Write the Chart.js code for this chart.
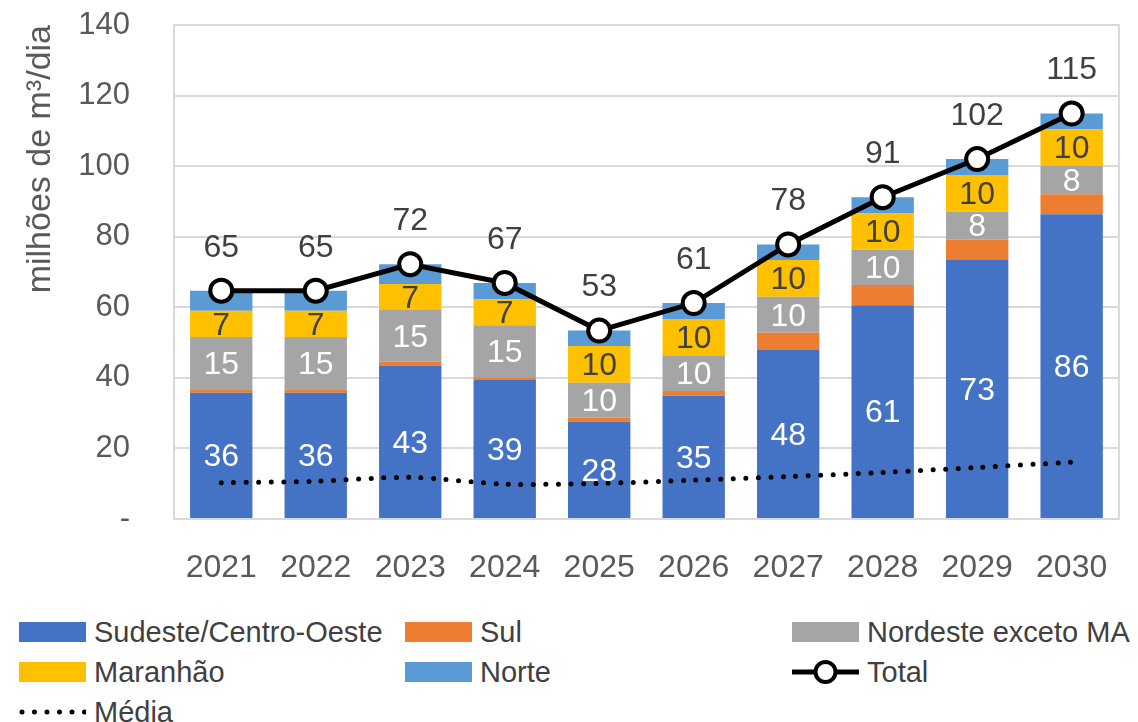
<!DOCTYPE html>
<html>
<head>
<meta charset="utf-8">
<script src="https://cdn.jsdelivr.net/npm/chart.js@4"></script>
<style>
    body { margin: 0; background: #fff; font-family: "Liberation Sans", Arial, sans-serif; }
    #wrap { position: relative; width: 1138px; height: 722px; }
    #chartBox { position: absolute; left: 0; top: 0; width: 1138px; height: 600px; }
    .leg { position: absolute; height: 40px; display: flex; align-items: center; font-size: 29px; color: #404040; white-space: nowrap; }
    .sw { width: 67px; height: 20px; margin-right: 8px; }
    .leg svg { margin-right: 8px; }
</style>
</head>
<body>
<div id="wrap">
    <div id="chartBox"><canvas id="mainChart"></canvas></div>
    <div id="legend"></div>
</div>
<script>
// --- Data (milhões de m³/dia) ---
const years = ['2021', '2022', '2023', '2024', '2025', '2026', '2027', '2028', '2029', '2030'];
const sudesteCO = [35.8, 35.8, 43.4, 39.4, 27.6, 34.9, 47.9, 60.6, 73.4, 86.4];
const sul = [1.0, 1.0, 1.2, 0.8, 1.1, 1.4, 4.9, 5.7, 5.8, 5.6];
const nordesteExMA = [14.8, 14.8, 14.6, 14.7, 9.9, 10.1, 10.2, 10.1, 7.9, 8.1];
const maranhao = [7.4, 7.4, 7.4, 7.3, 10.4, 10.3, 10.4, 10.2, 10.4, 10.3];
const norte = [5.7, 5.7, 5.6, 4.7, 4.4, 4.5, 4.4, 4.6, 4.5, 4.5];
const total = [64.7, 64.7, 72.2, 66.9, 53.4, 61.2, 77.8, 91.2, 102.0, 114.9];
const media = [10.3, 10.7, 11.8, 9.9, 10.1, 11.0, 12.0, 13.2, 14.6, 16.1];
const yTicks = [0, 20, 40, 60, 80, 100, 120, 140];

const FONT = '"Liberation Sans", Arial, sans-serif';
const TEXT = '#404040';

// grey frame round the plot area
const plotFrame = {
    id: 'plotFrame',
    beforeDatasetsDraw(chart) {
        const { ctx, chartArea: a } = chart;
        ctx.save();
        ctx.strokeStyle = '#D9D9D9';
        ctx.lineWidth = 2;
        ctx.strokeRect(a.left, a.top, a.right - a.left, a.bottom - a.top);
        ctx.restore();
    }
};

// value labels inside segments and above the Total line
const valueLabels = {
    id: 'valueLabels',
    afterDatasetsDraw(chart) {
        const ctx = chart.ctx;
        ctx.save();
        ctx.font = '32px ' + FONT;
        ctx.textAlign = 'center';
        ctx.textBaseline = 'middle';
        chart.data.datasets.forEach((ds, i) => {
            if (!ds.labelColor) return;
            const meta = chart.getDatasetMeta(i);
            ctx.fillStyle = ds.labelColor;
            meta.data.forEach((el, j) => {
                const v = Math.round(ds.data[j]);
                if (ds.type === 'line') {
                    ctx.fillText(v, el.x, el.y - 43);
                } else {
                    ctx.fillText(v, el.x, (el.y + el.base) / 2 + 2);
                }
            });
        });
        ctx.restore();
    }
};

new Chart(document.getElementById('mainChart').getContext('2d'), {
    type: 'bar',
    data: {
        labels: years,
        datasets: [
            { label: 'Sudeste/Centro-Oeste', data: sudesteCO, backgroundColor: '#4472C4', labelColor: '#FFFFFF', order: 2 },
            { label: 'Sul', data: sul, backgroundColor: '#ED7D31', order: 2 },
            { label: 'Nordeste exceto MA', data: nordesteExMA, backgroundColor: '#A5A5A5', labelColor: '#FFFFFF', order: 2 },
            { label: 'Maranhão', data: maranhao, backgroundColor: '#FFC000', labelColor: TEXT, order: 2 },
            { label: 'Norte', data: norte, backgroundColor: '#5B9BD5', order: 2 },
            {
                type: 'line', label: 'Total', data: total, stack: 'total', order: 0,
                borderColor: '#000', borderWidth: 5, tension: 0,
                pointRadius: 11, pointBackgroundColor: '#fff', pointBorderColor: '#000', pointBorderWidth: 4,
                labelColor: TEXT
            },
            {
                type: 'line', label: 'Média', data: media, stack: 'media', order: 1,
                borderColor: '#000', borderWidth: 5, borderDash: [0, 12.5], borderCapStyle: 'round',
                pointRadius: 0, tension: 0.3
            }
        ]
    },
    options: {
        responsive: true,
        maintainAspectRatio: false,
        animation: false,
        datasets: { bar: { barPercentage: 0.66, categoryPercentage: 1 } },
        layout: { padding: { top: 25, right: 8, left: 0, bottom: 0 } },
        plugins: { legend: { display: false }, tooltip: { enabled: false } },
        scales: {
            x: {
                stacked: true,
                grid: { display: false, drawTicks: false },
                border: { display: false },
                ticks: { font: { family: FONT, size: 32 }, color: '#595959', padding: 30 },
                afterFit: (s) => { s.height = 81; }
            },
            y: {
                stacked: true,
                min: 0, max: 140,
                afterBuildTicks: (s) => { s.ticks = yTicks.map(v => ({ value: v })); },
                grid: { color: '#D9D9D9', lineWidth: 2, drawTicks: false },
                border: { display: false },
                ticks: {
                    font: { family: FONT, size: 31 }, color: '#595959', padding: 44,
                    callback: (v) => v === 0 ? '-' : v
                },
                title: {
                    display: true, text: 'milhões de m³/dia', align: 'end',
                    font: { family: FONT, size: 34 }, color: '#595959',
                    padding: { top: 20, bottom: 0 }
                },
                afterFit: (s) => { s.width = 174; s.paddingTop = 0; s.paddingBottom = 0; }
            }
        }
    },
    plugins: [plotFrame, valueLabels]
});

// --- Legend (three columns, as in the original) ---
const legendItems = [
    { text: 'Sudeste/Centro-Oeste', color: '#4472C4', x: 19, y: 612 },
    { text: 'Sul', color: '#ED7D31', x: 405, y: 612 },
    { text: 'Nordeste exceto MA', color: '#A5A5A5', x: 792, y: 612 },
    { text: 'Maranhão', color: '#FFC000', x: 19, y: 652 },
    { text: 'Norte', color: '#5B9BD5', x: 405, y: 652 },
    { text: 'Total', marker: 'total', x: 792, y: 652 },
    { text: 'Média', marker: 'media', x: 19, y: 692 }
];
const legendEl = document.getElementById('legend');
legendItems.forEach(item => {
    const d = document.createElement('div');
    d.className = 'leg';
    d.style.left = item.x + 'px';
    d.style.top = item.y + 'px';
    let mark;
    if (item.marker === 'total') {
        mark = '<svg width="67" height="30"><line x1="0" y1="15" x2="67" y2="15" stroke="#000" stroke-width="5"/>' +
               '<circle cx="33.5" cy="15" r="10" fill="#fff" stroke="#000" stroke-width="4"/></svg>';
    } else if (item.marker === 'media') {
        mark = '<svg width="67" height="30"><line x1="3" y1="15" x2="66" y2="15" stroke="#000" stroke-width="5" ' +
               'stroke-linecap="round" stroke-dasharray="0 12.5"/></svg>';
    } else {
        mark = '<div class="sw" style="background:' + item.color + '"></div>';
    }
    d.innerHTML = mark + '<span>' + item.text + '</span>';
    legendEl.appendChild(d);
});
</script>
</body>
</html>
